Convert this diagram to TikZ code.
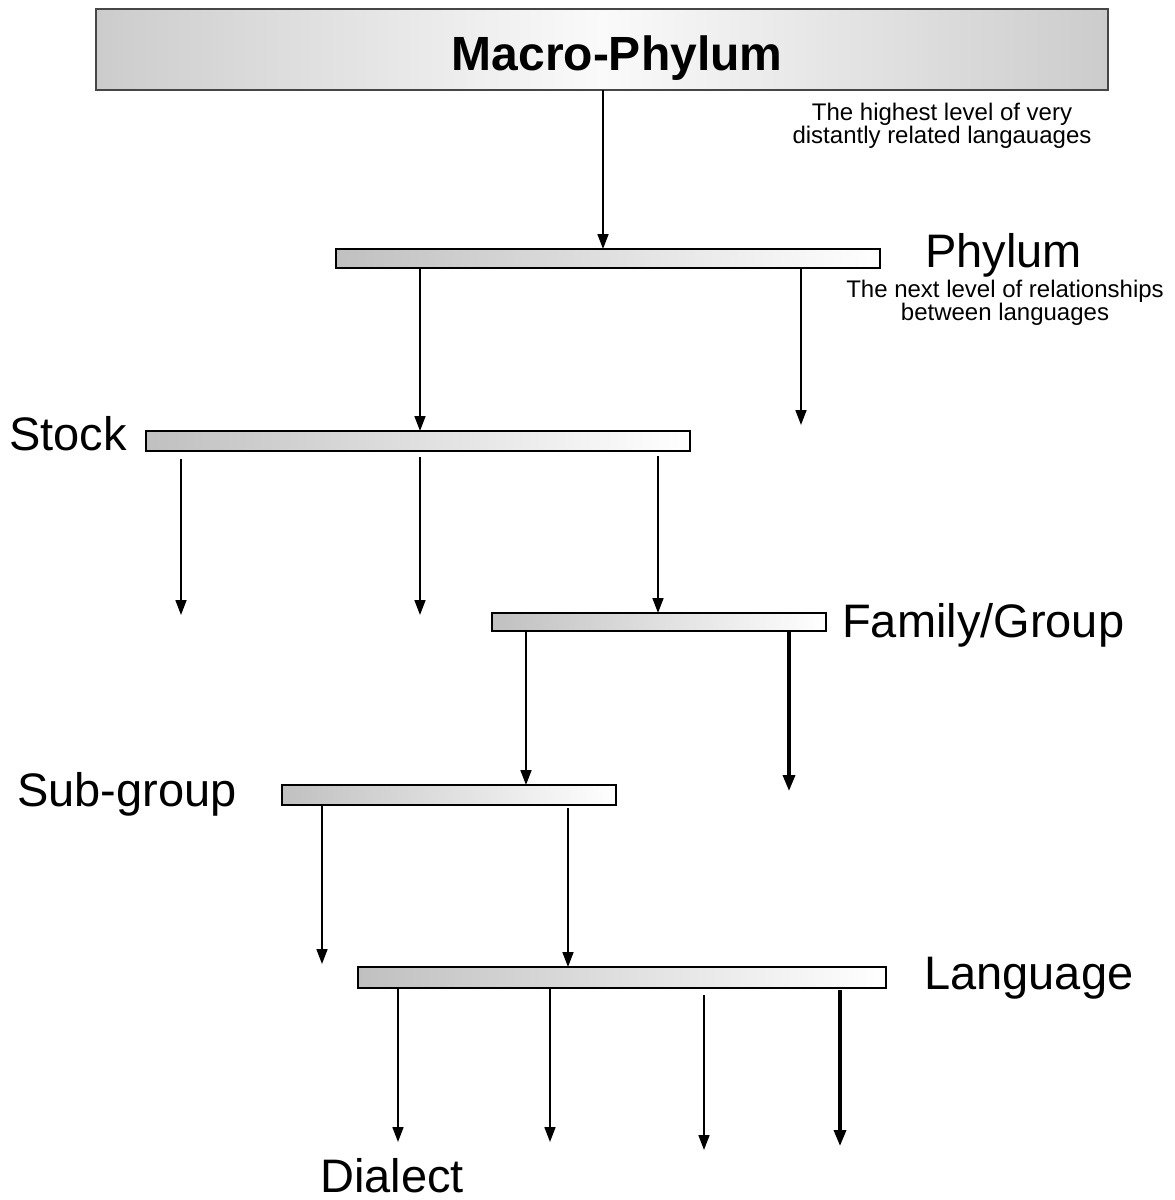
\documentclass[tikz,border=0pt]{standalone}
\usepackage{fontspec}
\setmainfont{Liberation Sans}
\usetikzlibrary{arrows.meta}
\definecolor{bargray}{RGB}{192,192,192}
\definecolor{boxgray}{RGB}{204,204,204}
\definecolor{boxlight}{RGB}{250,250,250}
\definecolor{edgegray}{RGB}{70,70,70}
\begin{document}
\begin{tikzpicture}[x=1pt,y=-1pt,
  bar/.style={draw=black,line width=1.6pt,inner sep=0pt,outer sep=0pt,
    left color=bargray,right color=white},
  topbox/.style={draw=edgegray,line width=1.8pt,inner sep=0pt,outer sep=0pt,
    left color=boxgray,right color=boxgray,middle color=boxlight},
  arr/.style={line width=1.7pt,-{Triangle[length=15pt,width=11pt]}},
  thickarr/.style={line width=3.4pt,-{Triangle[length=16pt,width=12pt]}},
  level/.style={font=\fontsize{47}{50}\selectfont,inner sep=0pt,text depth=0pt,anchor=base west},
  note/.style={font=\fontsize{24}{23}\selectfont,inner sep=0pt,align=center,anchor=base}]
\useasboundingbox (0,0) rectangle (1175,1200);
\fill[white] (0,0) rectangle (1175,1200);

% top box and its title
\node[topbox,minimum width=1012pt,minimum height=81pt] (macro) at (602,49.5) {};
\node[inner sep=0pt,anchor=base,font=\fontsize{48}{50}\selectfont\bfseries] (macrotext) at (617,70) {Macro-Phylum};

% level bars
\node[bar,minimum width=544pt,minimum height=19pt] (phylum) at (608,258.5) {};
\node[bar,minimum width=544pt,minimum height=20pt] (stock) at (418,441) {};
\node[bar,minimum width=334pt,minimum height=18pt] (family) at (659,622) {};
\node[bar,minimum width=334pt,minimum height=20pt] (subgroup) at (449,795) {};
\node[bar,minimum width=528pt,minimum height=21pt] (language) at (622,977.5) {};

% labels
\node[level] (lphylum) at (925,267) {Phylum};
\node[level] (lstock) at (9,450) {Stock};
\node[level] (lfamily) at (842,637) {Family/Group};
\node[level] (lsub) at (17,806) {Sub-group};
\node[level] (llang) at (924,989) {Language};
\node[level] (ldialect) at (320,1192) {Dialect};

\node[note] (n1) at (942,143) {The highest level of very\\distantly related langauages};
\node[note] (n2) at (1005,320) {The next level of relationships\\between languages};

% free arrow ends
\coordinate (p2) at (801,425);
\coordinate (s1) at (181,615);
\coordinate (s2) at (420,615);
\coordinate (f2) at (789,791);
\coordinate (g1) at (322,964);
\coordinate (d1) at (398,1142);
\coordinate (d2) at (550,1142);
\coordinate (d3) at (704,1150);
\coordinate (d4) at (840,1146);

% connectors
\draw[arr] (macro.south -| 603,0) -- (phylum.north -| 603,0);
\draw[arr] (phylum.south -| 420,0) -- (stock.north -| 420,0);
\draw[arr] (phylum.south -| 801,0) -- (p2);
\draw[arr] ([yshift=-8pt]stock.south -| 181,0) -- (s1);
\draw[arr] ([yshift=-6pt]stock.south -| 420,0) -- (s2);
\draw[arr] ([yshift=-5pt]stock.south -| 658,0) -- (family.north -| 658,0);
\draw[arr] (family.south -| 526,0) -- (subgroup.north -| 526,0);
\draw[thickarr] ([yshift=-1pt]family.south -| 789,0) -- (f2);
\draw[arr] (subgroup.south -| 322,0) -- (g1);
\draw[arr] ([yshift=-3pt]subgroup.south -| 568,0) -- (language.north -| 568,0);
\draw[arr] (language.south -| 398,0) -- (d1);
\draw[arr] (language.south -| 550,0) -- (d2);
\draw[arr] ([yshift=-7pt]language.south -| 704,0) -- (d3);
\draw[thickarr] ([yshift=-2pt]language.south -| 840,0) -- (d4);
\end{tikzpicture}
\end{document}
